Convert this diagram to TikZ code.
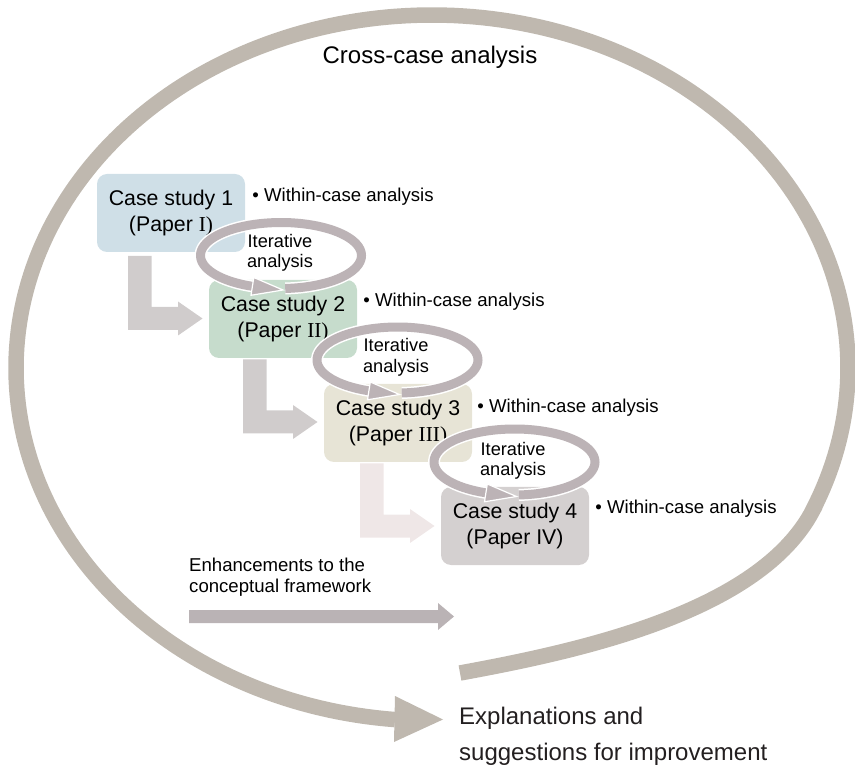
\documentclass[tikz,border=0pt]{standalone}
\usepackage{fontspec}
\setmainfont{Liberation Sans}
\newfontfamily\numserif{Liberation Serif}
\usetikzlibrary{calc}

\definecolor{bandgray}{RGB}{191,184,175}
\definecolor{ringgray}{RGB}{188,179,182}
\definecolor{elbowgray}{RGB}{208,204,204}
\definecolor{elbowpale}{RGB}{239,231,231}
\definecolor{enhgray}{RGB}{186,179,181}
\definecolor{caseblue}{RGB}{207,223,231}
\definecolor{casegreen}{RGB}{198,220,204}
\definecolor{casebeige}{RGB}{231,228,214}
\definecolor{casegray}{RGB}{212,208,208}
\definecolor{darktext}{RGB}{35,31,32}

\begin{document}
\begin{tikzpicture}[x=1pt,y=-1pt,
  casebox/.style={rounded corners=10pt, minimum width=148pt, minimum height=78pt,
    inner sep=0pt, align=center, font=\fontsize{21.3}{26}\selectfont, text=black},
  within/.style={anchor=west, inner sep=0pt, font=\fontsize{18.6}{20}\selectfont},
  ringlabel/.style={align=center, inner sep=0pt, font=\fontsize{18.2}{20.5}\selectfont},
  % L-shaped block arrow, origin at the top-left corner of its stem
  elbow/.pic={
    \path[pic actions] (0,0) -- (23.5,0) -- (23.5,51) -- (50,51) -- (50,45.5)
      -- (74.5,62.5) -- (50,79.5) -- (50,74) -- (0,74) -- cycle;
  },
  % loop arrow around the "Iterative analysis" label, origin at its centre
  iterring/.pic={
    \draw[white, line width=12pt]
      plot[domain=87:-249.2, samples=90] ({80.5*cos(\x)},{33*sin(\x)});
    \draw[ringgray, line width=9pt]
      plot[domain=87:-249.2, samples=90] ({80.5*cos(\x)},{33*sin(\x)});
    \filldraw[fill=ringgray, draw=white, line width=1.2pt, line join=miter]
      (-30,39.8) -- (2,34.5) -- (-27.2,22.0) -- cycle;
  },
]
\useasboundingbox (0,0) rectangle (855,767);

% outer cross-case loop
\coordinate (tail) at (460,673);
\coordinate (join) at (813,510);
\draw[bandgray, line width=15.5pt] (tail) .. controls (580,651) and (760,612) .. (join)
  -- plot[domain=23.7:-264.9, samples=220] ({432+416*cos(\x)},{368+353*sin(\x)});
\fill[bandgray] (395,696) -- (443,719.5) -- (394,742) -- cycle;

\node[font=\fontsize{24}{28}\selectfont] (cross) at (430,57) {Cross-case analysis};

% block arrows between the case studies
\pic[fill=elbowgray] at (128,256) {elbow};
\pic[fill=elbowgray] at (243,359.5) {elbow};
\pic[fill=elbowpale] at (360,463.5) {elbow};

% case studies
\node[casebox, fill=caseblue] (box1) at (171,213) {Case study 1\\(Paper {\numserif I)}};
\node[casebox, fill=casegreen] (box2) at (283,319) {Case study 2\\(Paper {\numserif II)}};
\node[casebox, fill=casebeige] (box3) at (398,423) {Case study 3\\(Paper {\numserif III)}};
\node[casebox, fill=casegray] (box4) at (515,526) {Case study 4\\(Paper IV)};

\node[within] (w1) at ($(box1.east)+(7,-16)$) {\textbullet\ Within-case analysis};
\node[within] (w2) at ($(box2.east)+(6,-17)$) {\textbullet\ Within-case analysis};
\node[within] (w3) at ($(box3.east)+(5,-15)$) {\textbullet\ Within-case analysis};
\node[within] (w4) at ($(box4.east)+(6,-17)$) {\textbullet\ Within-case analysis};

% iterative loops
\pic at (281,255.5) {iterring};
\pic at (397.5,360) {iterring};
\pic at (514.5,462) {iterring};
\node[ringlabel] (it1) at (280,253) {Iterative\\analysis};
\node[ringlabel] (it2) at (396,357.5) {Iterative\\analysis};
\node[ringlabel] (it3) at (513,461) {Iterative\\analysis};

% enhancements arrow
\node[anchor=west, inner sep=0pt, align=left, font=\fontsize{18.6}{20.5}\selectfont]
  (enh) at (189,577) {Enhancements to the\\conceptual framework};
\fill[enhgray] (189,610) -- (438,610) -- (438,603) -- (454,616.5) -- (438,630)
  -- (438,623) -- (189,623) -- cycle;

% outcome
\node[anchor=west, inner sep=0pt, align=left, text=darktext,
  font=\fontsize{24}{36}\selectfont] (expl) at (459,736)
  {Explanations and\\suggestions for improvement};
\end{tikzpicture}
\end{document}
